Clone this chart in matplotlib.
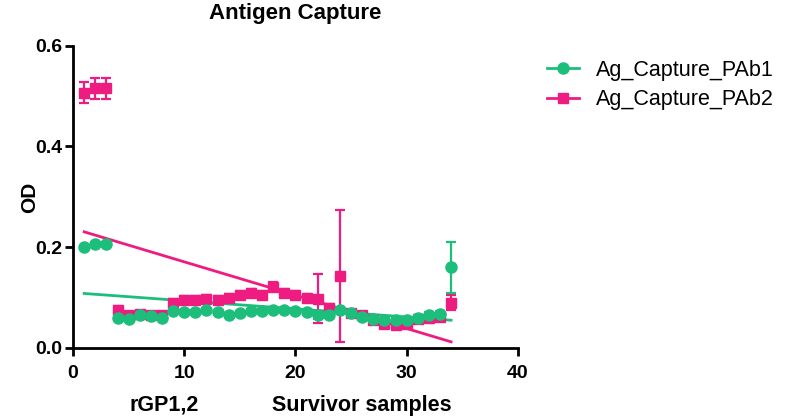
import numpy as np
import matplotlib
matplotlib.use("Agg")
import matplotlib.pyplot as plt
from matplotlib.lines import Line2D

plt.rcParams['font.family'] = ['Liberation Sans', 'DejaVu Sans']

# datos
x = np.arange(1, 35)
pab1 = [0.200, 0.207, 0.207, 0.060, 0.057, 0.066, 0.064, 0.060, 0.073, 0.072,
        0.072, 0.075, 0.072, 0.065, 0.070, 0.073, 0.073, 0.075, 0.075, 0.074,
        0.072, 0.065, 0.065, 0.075, 0.070, 0.062, 0.058, 0.055, 0.055, 0.056,
        0.060, 0.065, 0.068, 0.160]
pab1_err = [0.003, 0.003, 0.003, 0.004, 0.004, 0.004, 0.004, 0.004, 0.004, 0.004,
            0.004, 0.004, 0.004, 0.004, 0.004, 0.004, 0.004, 0.004, 0.004, 0.004,
            0.004, 0.008, 0.006, 0.004, 0.004, 0.004, 0.004, 0.004, 0.004, 0.004,
            0.006, 0.006, 0.006, 0.050]
pab2 = [0.507, 0.515, 0.515, 0.075, 0.065, 0.068, 0.065, 0.065, 0.090, 0.095,
        0.095, 0.098, 0.095, 0.100, 0.105, 0.110, 0.105, 0.122, 0.110, 0.105,
        0.100, 0.098, 0.080, 0.143, 0.070, 0.065, 0.055, 0.047, 0.045, 0.048,
        0.058, 0.060, 0.062, 0.090]
pab2_err = [0.021, 0.020, 0.020, 0.008, 0.006, 0.006, 0.006, 0.006, 0.008, 0.008,
            0.008, 0.008, 0.008, 0.008, 0.008, 0.008, 0.008, 0.008, 0.008, 0.008,
            0.008, 0.048, 0.008, 0.131, 0.006, 0.006, 0.006, 0.006, 0.006, 0.006,
            0.006, 0.006, 0.006, 0.015]

verde = '#1DBE7B'
rosa = '#EE1C80'

fig = plt.figure(figsize=(7.87, 4.19), dpi=100)
ax = fig.add_axes([0.0928, 0.1695, 0.5652, 0.7215])

# series PAb2 (debajo) y PAb1
ax.errorbar(x, pab2, yerr=pab2_err, fmt='s', color=rosa, ms=7.5, capsize=3.5,
            elinewidth=1.6, capthick=1.6, zorder=3)
ax.errorbar(x, pab1, yerr=pab1_err, fmt='o', color=verde, ms=8, capsize=3.5,
            elinewidth=1.6, capthick=1.6, zorder=4)

# regresion lineal
for y, c, z in [(pab2, rosa, 2.5), (pab1, verde, 2.6)]:
    m, b = np.polyfit(x, y, 1)
    xx = np.array([x[0], x[-1]])
    ax.plot(xx, m * xx + b, color=c, lw=2, zorder=z)

ax.set_xlim(0, 40)
ax.set_ylim(0, 0.6)
ax.set_xticks([0, 10, 20, 30, 40])
ax.set_yticks([0.0, 0.2, 0.4, 0.6])
ax.set_yticklabels(['0.0', '0.2', '0.4', '0.6'])
for s in ['top', 'right']:
    ax.spines[s].set_visible(False)
for s in ['left', 'bottom']:
    ax.spines[s].set_linewidth(2)
ax.tick_params(width=2, length=6, labelsize=14)
ax.tick_params(axis='x', pad=6)
ax.tick_params(axis='y', pad=2)
for lab in ax.get_xticklabels() + ax.get_yticklabels():
    lab.set_fontweight('bold')

ax.set_title('Antigen Capture', fontsize=16, fontweight='bold', pad=19)
fig.text(30 / 787, 1 - 197 / 419, 'OD', rotation=90, fontsize=15,
         fontweight='bold', ha='center', va='center')
fig.text(164 / 787, 1 - 405 / 419, 'rGP1,2', fontsize=15.5, fontweight='bold',
         ha='center', va='center')
fig.text(362 / 787, 1 - 405 / 419, 'Survivor samples', fontsize=15.5,
         fontweight='bold', ha='center', va='center')

handles = [Line2D([], [], color=verde, marker='o', ms=8, lw=2),
           Line2D([], [], color=rosa, marker='s', ms=7.5, lw=2)]
fig.legend(handles, ['Ag_Capture_PAb1', 'Ag_Capture_PAb2'], loc='upper left',
           bbox_to_anchor=(0.682, 0.883), frameon=False, fontsize=15.5,
           borderpad=0, handlelength=1.45, handletextpad=0.8,
           labelspacing=0.4)

fig.savefig('out.png', dpi=100)
